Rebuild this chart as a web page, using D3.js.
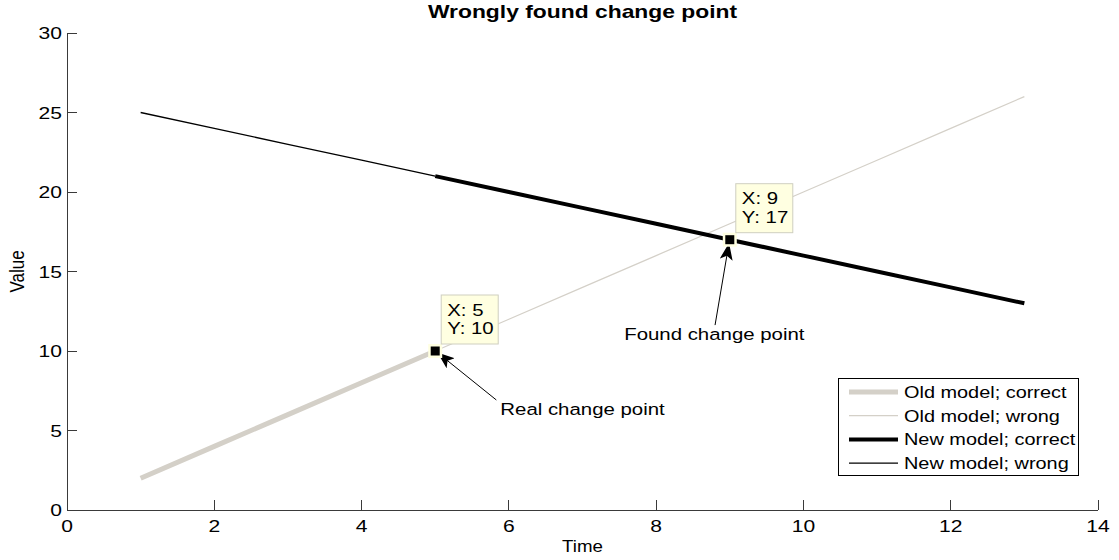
<!DOCTYPE html>
<html>
<head>
<meta charset="utf-8">
<script src="https://cdn.jsdelivr.net/npm/d3@7"></script>
<style>
  html, body { margin: 0; padding: 0; background: #fff; }
  svg { display: block; }
  text { font-family: "Liberation Sans", Arial, Helvetica, sans-serif; fill: #000; }
</style>
</head>
<body>
<svg id="chart" width="1119" height="560"></svg>
<script>
// Series: time steps and values of the two models
const oldCorrectT = [1, 2, 3, 4, 5];
const oldCorrectV = [2, 4, 6, 8, 10];
const oldWrongT = [5, 6, 7, 8, 9, 10, 11, 12, 13];
const oldWrongV = [10, 12, 14, 16, 18, 20, 22, 24, 26];
const newCorrectT = [5, 6, 7, 8, 9, 10, 11, 12, 13];
const newCorrectV = [21, 20, 19, 18, 17, 16, 15, 14, 13];
const newWrongT = [1, 2, 3, 4, 5];
const newWrongV = [25, 24, 23, 22, 21];

// Axis ticks
const xTicks = [0, 2, 4, 6, 8, 10, 12, 14];
const yTicks = [0, 5, 10, 15, 20, 25, 30];

// Legend entries
const legendLabels = ["Old model; correct", "Old model; wrong", "New model; correct", "New model; wrong"];

// Data tips: [time, value]
const tipPoints = [[5, 10], [9, 17]];
// Annotations: label, label anchor [time, value], arrow tail [time, value], arrow head [time, value]
const noteLabels = ["Real change point", "Found change point"];
const noteTextPos = [[7.0, 5.97], [8.79, 10.69]];
const noteTail = [[5.83, 6.92], [8.8, 11.63]];
const noteHead = [[5.03, 9.9], [8.99, 16.8]];

const svg = d3.select("#chart");
const SX = 1.2;        // horizontal widening of the lettering
const FS = 17;

const x = d3.scaleLinear().domain([0, 14]).range([67, 1098]);
const y = d3.scaleLinear().domain([0, 30]).range([510, 33]);

function label(g, tx, ty, str, opts = {}) {
  const s = opts.sx || SX;
  return g.append("text")
    .attr("transform", `translate(${tx},${ty}) scale(${s},1)` + (opts.rotate ? ` rotate(${opts.rotate})` : ""))
    .attr("text-anchor", opts.anchor || "start")
    .attr("font-size", opts.size || FS)
    .attr("font-weight", opts.weight || "normal")
    .text(str);
}

// Axes: left and bottom lines with inward ticks
const axisColor = "#3a3a3a";
const ax = svg.append("g");
ax.append("line").attr("x1", x(0)).attr("x2", x(14)).attr("y1", y(0)).attr("y2", y(0))
  .attr("stroke", axisColor).attr("stroke-width", 1).attr("shape-rendering", "crispEdges");
ax.append("line").attr("x1", x(0)).attr("x2", x(0)).attr("y1", y(0)).attr("y2", y(30))
  .attr("stroke", axisColor).attr("stroke-width", 1).attr("shape-rendering", "crispEdges");
xTicks.forEach(t => {
  ax.append("line").attr("x1", x(t)).attr("x2", x(t)).attr("y1", y(0)).attr("y2", y(0) - 10)
    .attr("stroke", axisColor).attr("shape-rendering", "crispEdges");
  label(ax, x(t), y(0) + 22, String(t), { anchor: "middle", sx: 1.24 });
});
yTicks.forEach(t => {
  ax.append("line").attr("x1", x(0)).attr("x2", x(0) + 10).attr("y1", y(t)).attr("y2", y(t))
    .attr("stroke", axisColor).attr("shape-rendering", "crispEdges");
  label(ax, x(0) - 5, y(t) + 6, String(t), { anchor: "end", sx: 1.24 });
});

// Axis titles and chart title
label(svg, (x(0) + x(14)) / 2, 552, "Time", { anchor: "middle", sx: 1.1 });
label(svg, 24, (y(0) + y(30)) / 2, "Value", { anchor: "middle", rotate: -90 });
label(svg, (x(0) + x(14)) / 2, 18, "Wrongly found change point", { anchor: "middle", weight: "bold", size: 18, sx: 1.27 });

// Model lines
const styles = [
  { t: oldCorrectT, v: oldCorrectV, color: "#d4d0c8", w: 5 },
  { t: oldWrongT, v: oldWrongV, color: "#d4d0c8", w: 1.2 },
  { t: newCorrectT, v: newCorrectV, color: "#000", w: 4 },
  { t: newWrongT, v: newWrongV, color: "#000", w: 1.3 }
];
const line = d3.line().x(d => x(d[0])).y(d => y(d[1]));
styles.forEach(s => {
  svg.append("path")
    .datum(s.t.map((t, i) => [t, s.v[i]]))
    .attr("d", line)
    .attr("fill", "none")
    .attr("stroke", s.color)
    .attr("stroke-width", s.w);
});

// Annotation arrows
const defs = svg.append("defs");
defs.append("marker").attr("id", "arrowhead")
  .attr("viewBox", "0 0 17 13").attr("refX", 17).attr("refY", 6.5)
  .attr("markerWidth", 17).attr("markerHeight", 13)
  .attr("markerUnits", "userSpaceOnUse").attr("orient", "auto")
  .append("path").attr("d", "M0,0 L17,6.5 L0,13 L4,6.5 Z").attr("fill", "#000");

noteLabels.forEach((lab, i) => {
  svg.append("line")
    .attr("x1", x(noteTail[i][0])).attr("y1", y(noteTail[i][1]))
    .attr("x2", x(noteHead[i][0])).attr("y2", y(noteHead[i][1]))
    .attr("stroke", "#000").attr("stroke-width", 1)
    .attr("marker-end", "url(#arrowhead)");
  label(svg, x(noteTextPos[i][0]), y(noteTextPos[i][1]), lab, { anchor: "middle" });
});

// Data tips: marker plus X/Y box
tipPoints.forEach(p => {
  const px = x(p[0]), py = y(p[1]);
  svg.append("rect").attr("x", px - 7).attr("y", py - 7).attr("width", 14).attr("height", 14)
    .attr("fill", "#ffffe1");
  svg.append("rect").attr("x", px - 4.5).attr("y", py - 4.5).attr("width", 9).attr("height", 9)
    .attr("fill", "#000");
  const g = svg.append("g");
  const bx = px + 6, by = py - 56;
  const box = g.append("rect").attr("x", bx).attr("y", by).attr("height", 49)
    .attr("fill", "#ffffe1").attr("stroke", "#cfcfc0").attr("stroke-width", 1);
  const t1 = label(g, bx + 6, by + 20.5, "X: " + p[0]);
  const t2 = label(g, bx + 6, by + 39, "Y: " + p[1]);
  const w = Math.max(t1.node().getBBox().width, t2.node().getBBox().width) * SX;
  box.attr("width", Math.round(w + 11));
});

// Legend
const lg = svg.append("g");
lg.append("rect").attr("x", 838.5).attr("y", 378.5).attr("width", 240).attr("height", 97)
  .attr("fill", "#fff").attr("stroke", "#000").attr("stroke-width", 1);
legendLabels.forEach((lab, i) => {
  const cy = 392 + i * 23.7;
  const s = styles[i];
  lg.append("line").attr("x1", 849).attr("x2", 898).attr("y1", cy).attr("y2", cy)
    .attr("stroke", s.color).attr("stroke-width", s.w);
  label(lg, 904, cy + 6, lab, { sx: 1.17 });
});
</script>
</body>
</html>
